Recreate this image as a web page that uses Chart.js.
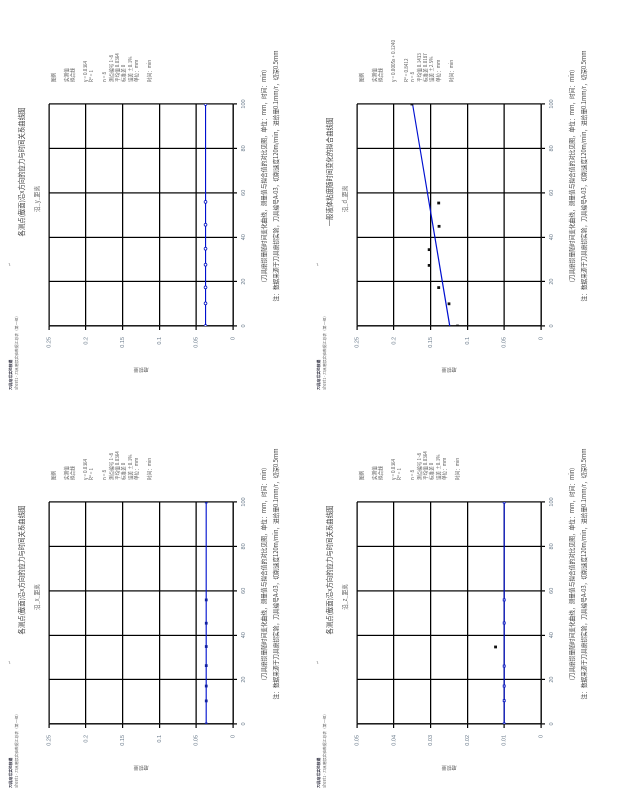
<!DOCTYPE html>
<html><head><meta charset="utf-8">
<script src="https://cdn.jsdelivr.net/npm/chart.js@4.4.1/dist/chart.umd.min.js"></script>
<style>
html,body{margin:0;padding:0;background:#fff;width:618px;height:800px;overflow:hidden;}
#page{position:absolute;left:0;top:0;width:800px;height:618px;transform-origin:0 0;transform:translate(0,800px) rotate(-90deg);font-family:"Noto Sans CJK SC","Noto Sans",sans-serif;color:#666;}
.cell{position:absolute;width:398px;height:308px;}
.cell canvas{position:absolute;left:0;top:0;}
.t{position:absolute;white-space:nowrap;line-height:1;}
.title{font-size:6.4px;color:#444;}
.sub{font-size:5.6px;color:#666;}
.cap{font-size:5.7px;color:#444;text-align:center;}
.leg{font-size:4.6px;color:#555;line-height:6.4px;}
.hdr{font-size:3.8px;color:#666;line-height:5.5px;}
.hdr b{color:#334;}
.mk{font-size:4px;color:#888;}
</style>
</head><body>
<div id="page">
  <div class="cell" id="cellA" style="left:0;top:0"><canvas id="cA"></canvas></div>
  <div class="cell" id="cellB" style="left:398px;top:0"><canvas id="cB"></canvas></div>
  <div class="cell" id="cellC" style="left:0;top:308px"><canvas id="cC"></canvas></div>
  <div class="cell" id="cellD" style="left:398px;top:308px"><canvas id="cD"></canvas></div>
</div>
<script>
// ---- data ----
const xTickValues = [0, 20, 40, 60, 80, 100];
const xTickLabels = ["0", "20", "40", "60", "80", "100"];
const yTickValues = [0, 0.05, 0.1, 0.15, 0.2, 0.25];
const yTickLabels = ["0", "0.05", "0.1", "0.15", "0.2", "0.25"];
const yTickValuesC = [0, 0.01, 0.02, 0.03, 0.04, 0.05];
const yTickLabelsC = ["0", "0.01", "0.02", "0.03", "0.04", "0.05"];
const lineX = [0, 100];

const aX = [0, 10.4, 17.1, 26.3, 34.9, 45.4, 55.9, 100];
const aY = [0.0364, 0.0364, 0.0364, 0.0364, 0.0364, 0.0364, 0.0364, 0.0364];
const aLine = [0.0364, 0.0364];

const bX = [0, 10.2, 17.4, 27.6, 34.8, 45.6, 55.9, 100];
const bY = [0.0373, 0.0373, 0.0373, 0.0373, 0.0373, 0.0373, 0.0373, 0.0373];
const bLine = [0.0373, 0.0373];

const cX = [0, 10.5, 17.1, 26.1, 45.5, 55.9, 100];
const cY = [0.01, 0.01, 0.01, 0.01, 0.01, 0.01, 0.01];
const cOutX = [34.7];
const cOutY = [0.01235];
const cLine = [0.01, 0.01];

const dX = [0, 10.0, 17.3, 27.3, 34.4, 44.9, 55.4, 100];
const dY = [0.1135, 0.125, 0.139, 0.152, 0.152, 0.1385, 0.139, 0.1755];
const dLine = [0.124, 0.1745];

const titleMain = "各测点(截面)沿x方向的应力与时间关系曲线图";
const titleD = "一般液体粘度随时间变化的拟合曲线图";
const subs = ["沿_x_距离", "沿_y_距离", "沿_z_距离", "沿_d_距离"];
const yTitle = "磨损量";
const capLine1 = "(刀具磨损量随时间变化曲线，测量值与拟合值的对比见图，单位：mm，时间：min)";
const capLine2 = "注：数据来源于刀具磨损实验，刀具编号A-03，切削速度120m/min，进给量0.1mm/r，切深0.5mm";
const legendA = ["图例", "", "实测值", "拟合线", "", "y = 0.0364", "R² = 1", "", "n = 8", "测点编号 1~8", "平均值 0.0364", "标准差 0", "误差 ±0.1%", "单位：mm", "", "时间：min"];
const legendD = ["图例", "", "实测值", "拟合线", "", "y = 0.0005x + 0.1240", "", "R² = 0.8412", "n = 8", "平均值 0.1433", "标准差 0.0187", "误差 ±2.5%", "单位：mm", "", "时间：min"];
const hdrLines = ["刀具磨损实验数据", "Sheet1 - 刀具磨损实验数据汇总表（第一组）"];

// ---- helpers ----
function pts(xs, ys) { return xs.map((x, i) => ({x: x, y: ys[i]})); }
const BLUE = '#0010d0';

function makeChart(id, datasets, yVals, yLabs) {
  const fontT = {family: 'Liberation Sans', size: 5.5};
  return new Chart(document.getElementById(id), {
    type: 'scatter',
    data: {datasets: datasets},
    options: {
      responsive: false, animation: false, devicePixelRatio: 2,
      layout: {padding: {left: 20, right: 100, top: 49, bottom: 55}},
      plugins: {legend: {display: false}, tooltip: {enabled: false}},
      scales: {
        x: {
          type: 'linear', min: 0, max: 100,
          afterBuildTicks: s => { s.ticks = xTickValues.map(v => ({value: v})); },
          afterFit: s => { s.height = 20; },
          ticks: {callback: (v, i) => xTickLabels[i], font: fontT, color: '#667788', padding: 3, maxRotation: 0},
          grid: {color: '#000', lineWidth: 1.2, tickLength: 4, tickColor: '#000'},
          border: {color: '#000', width: 1.3}
        },
        y: {
          type: 'linear', min: yVals[0], max: yVals[yVals.length - 1],
          afterBuildTicks: s => { s.ticks = yVals.map(v => ({value: v})); },
          afterFit: s => { s.width = 56; },
          ticks: {callback: (v, i) => yLabs[i], font: fontT, color: '#667788', padding: 7},
          grid: {color: '#000', lineWidth: 1.2, tickLength: 4, tickColor: '#000'},
          border: {color: '#000', width: 1.3},
          title: {display: true, text: yTitle, font: {family: 'Noto Sans CJK SC', size: 5}, color: '#666', padding: {top: 9, bottom: 0}}
        }
      }
    }
  });
}

function lineSet(ys) {
  return {type: 'line', data: pts(lineX, ys), borderColor: BLUE, borderWidth: 1.2, pointRadius: 0, showLine: true, fill: false, order: 2};
}
function ptSet(xs, ys, style, fillC, edgeC) {
  return {data: pts(xs, ys), pointStyle: style, pointRadius: 1.4, backgroundColor: fillC, borderColor: edgeC, borderWidth: 0.8, showLine: false, order: 1};
}

function setSize(id) {
  const c = document.getElementById(id);
  c.width = 398; c.height = 308; c.style.width = '398px'; c.style.height = '308px';
}
['cA', 'cB', 'cC', 'cD'].forEach(setSize);

makeChart('cA', [lineSet(aLine), ptSet(aX, aY, 'rect', '#1020a0', '#1020a0')], yTickValues, yTickLabels);
makeChart('cB', [lineSet(bLine), ptSet(bX, bY, 'circle', '#ffffff', '#0010c0')], yTickValues, yTickLabels);
makeChart('cC', [lineSet(cLine), ptSet(cX, cY, 'rect', '#ffffff', '#0010c0'), ptSet(cOutX, cOutY, 'rect', '#111', '#111')], yTickValuesC, yTickLabelsC);
makeChart('cD', [lineSet(dLine), ptSet(dX, dY, 'rect', '#111', '#111')], yTickValues, yTickLabels);

// ---- text blocks ----
function addText(cellId, cls, x, y, html, extra) {
  const d = document.createElement('div');
  d.className = 't ' + cls;
  d.style.left = x + 'px'; d.style.top = y + 'px';
  if (extra) Object.assign(d.style, extra);
  d.innerHTML = html;
  document.getElementById(cellId).appendChild(d);
  return d;
}
const cells = ['cellA', 'cellB', 'cellC', 'cellD'];
cells.forEach((cid, k) => {
  addText(cid, 'hdr', 12, 8, '<b>' + hdrLines[0] + '</b><br>' + hdrLines[1]);
  addText(cid, 'mk', 136, 7, '↵');
  const tt = (k === 3) ? titleD : titleMain;
  addText(cid, 'title', 230, 19, tt, {transform: 'translateX(-50%)'});
  addText(cid, 'sub', 203, 35, subs[k], {transform: 'translateX(-50%)'});
  const lg = (k === 3) ? legendD : legendA;
  addText(cid, 'leg', 320, 50, lg.join('<br>'));
  addText(cid, 'cap', 226, 258, capLine1 + '<br>' + capLine2, {transform: 'translateX(-50%)', lineHeight: '12px'});
});
</script>
</body></html>
